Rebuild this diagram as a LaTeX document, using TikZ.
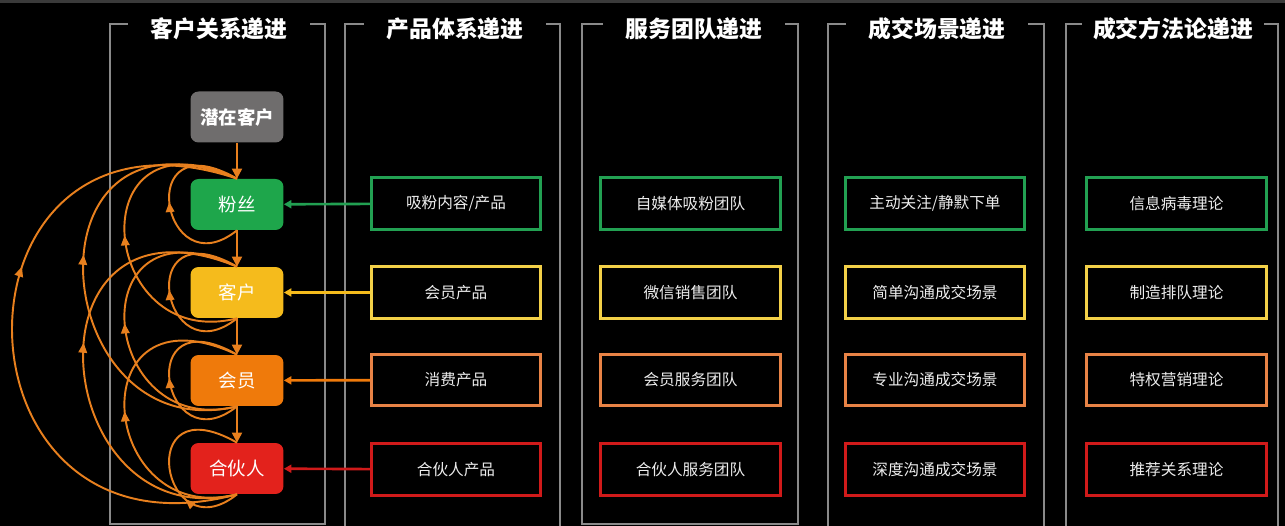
\documentclass[tikz,border=0pt]{standalone}
\usepackage{fontspec}
\setmainfont{Noto Sans CJK SC}
\usetikzlibrary{arrows.meta,decorations.markings}
\definecolor{topgray}{HTML}{3A3A3A}
\definecolor{panelgray}{HTML}{8A8A8A}
\definecolor{txtgray}{HTML}{EDEDED}
\definecolor{cgray}{HTML}{6F6D6D}
\definecolor{cgreen}{HTML}{1EA64B}
\definecolor{cyellow}{HTML}{F5BB1C}
\definecolor{corange}{HTML}{EF7A0B}
\definecolor{cred}{HTML}{E3221C}
\definecolor{bgreen}{HTML}{22A052}
\definecolor{byellow}{HTML}{F3D048}
\definecolor{borange}{HTML}{E88346}
\definecolor{bred}{HTML}{D01A1A}
\definecolor{curveorange}{HTML}{E8801E}
\tikzset{
  stage/.style={rounded corners=0.16cm, minimum width=1.86cm, minimum height=1.02cm,
    inner sep=0pt, text=white, font=\fontsize{10.5}{12}\selectfont},
  item/.style={draw, line width=0.06cm, minimum width=3.6cm, minimum height=1.03cm,
    inner sep=0pt, text=txtgray, font=\fontsize{8.9}{10}\selectfont},
  panel/.style={draw=panelgray, line width=0.6pt},
  heading/.style={fill=black, text=white, minimum width=3.64cm, inner sep=2pt,
    font=\fontsize{13}{15}\selectfont\bfseries},
  flow/.style={curveorange, line width=1.1pt, -{Triangle[length=0.2cm,width=0.2cm]}},
  feed/.style={line width=1.5pt, -{Triangle[length=0.15cm,width=0.16cm]}},
  backloop/.style={curveorange, line width=1.1pt, postaction={decorate},
    decoration={markings, mark=at position #1 with {\arrow{Triangle[length=0.2cm,width=0.17cm]}}}},
}
\begin{document}
\begin{tikzpicture}[x=0.02cm, y=0.02cm]
\fill[black] (0,0) rectangle (1285,-526);
\useasboundingbox (0,0) rectangle (1285,-526);
\fill[topgray] (0,0) rectangle (1285,-3);
% panels
\draw[panel] (110,-24) rectangle (325,-524);
\draw[panel] (345,-24) rectangle (560,-530);
\draw[panel] (582,-24) rectangle (798,-524);
\draw[panel] (828,-24) rectangle (1044,-530);
\draw[panel] (1066,-24) rectangle (1278,-530);
\node[heading] (h1) at (219,-29) {客户关系递进};
\node[heading] (h2) at (455,-29) {产品体系递进};
\node[heading] (h3) at (694,-29) {服务团队递进};
\node[heading] (h4) at (937,-29) {成交场景递进};
\node[heading] (h5) at (1173,-29) {成交方法论递进};
% stages
\node[stage, fill=cgray, font=\fontsize{10.5}{12}\selectfont\bfseries] (qianzai) at (237,-117) {潜在客户};
\node[stage, fill=cgreen] (fensi) at (237,-204.5) {粉丝};
\node[stage, fill=cyellow] (kehu) at (237,-292.5) {客户};
\node[stage, fill=corange] (huiyuan) at (237,-380.5) {会员};
\node[stage, fill=cred] (hehuo) at (237,-468.5) {合伙人};
\draw[flow] (qianzai) -- (fensi);
\draw[flow] (fensi) -- (kehu);
\draw[flow] (kehu) -- (huiyuan);
\draw[flow] (huiyuan) -- (hehuo);
% back to fensi
\draw[backloop=0.5] (fensi.south) .. controls +(-75,-60) and +(-105,60) .. (fensi.north);
\draw[backloop=0.5] (kehu.south) .. controls +(-140,-35) and +(-160,75) .. (fensi.north);
\draw[backloop=0.55] (huiyuan.south) .. controls +(-190,-45) and +(-220,90) .. (fensi.north);
\draw[backloop=0.6] (hehuo.south) .. controls +(-300,-80) and +(-300,100) .. (fensi.north);
% back to kehu
\draw[backloop=0.5] (kehu.south) .. controls +(-75,-60) and +(-105,60) .. (kehu.north);
\draw[backloop=0.5] (huiyuan.south) .. controls +(-140,-35) and +(-160,75) .. (kehu.north);
\draw[backloop=0.55] (hehuo.south) .. controls +(-190,-45) and +(-220,90) .. (kehu.north);
% back to huiyuan
\draw[backloop=0.5] (huiyuan.south) .. controls +(-75,-60) and +(-105,60) .. (huiyuan.north);
\draw[backloop=0.5] (hehuo.south) .. controls +(-140,-35) and +(-160,75) .. (huiyuan.north);
% back to hehuo
\draw[backloop=0.3] (hehuo.south) .. controls +(-75,-60) and +(-105,60) .. (hehuo.north);
% products
\node[item, draw=bgreen, minimum width=3.38cm] (p1) at (456,-203.5) {吸粉内容/产品};
\node[item, draw=byellow, minimum width=3.38cm] (p2) at (456,-292.5) {会员产品};
\node[item, draw=borange, minimum width=3.38cm] (p3) at (456,-380) {消费产品};
\node[item, draw=bred, minimum width=3.38cm] (p4) at (456,-469.5) {合伙人产品};
\draw[feed, bgreen] (p1) -- (fensi);
\draw[feed, cyellow] (p2) -- (kehu);
\draw[feed, corange] (p3) -- (huiyuan);
\draw[feed, bred] (p4) -- (hehuo);
% teams
\node[item, draw=bgreen] (t1) at (690.5,-203.5) {自媒体吸粉团队};
\node[item, draw=byellow] (t2) at (690.5,-292.5) {微信销售团队};
\node[item, draw=borange] (t3) at (690.5,-380) {会员服务团队};
\node[item, draw=bred] (t4) at (690.5,-469.5) {合伙人服务团队};
% scenes
\node[item, draw=bgreen] (s1) at (935,-203.5) {主动关注/静默下单};
\node[item, draw=byellow] (s2) at (935,-292.5) {简单沟通成交场景};
\node[item, draw=borange] (s3) at (935,-380) {专业沟通成交场景};
\node[item, draw=bred] (s4) at (935,-469.5) {深度沟通成交场景};
% methods
\node[item, draw=bgreen] (m1) at (1176.5,-203.5) {信息病毒理论};
\node[item, draw=byellow] (m2) at (1176.5,-292.5) {制造排队理论};
\node[item, draw=borange] (m3) at (1176.5,-380) {特权营销理论};
\node[item, draw=bred] (m4) at (1176.5,-469.5) {推荐关系理论};
\end{tikzpicture}
\end{document}
